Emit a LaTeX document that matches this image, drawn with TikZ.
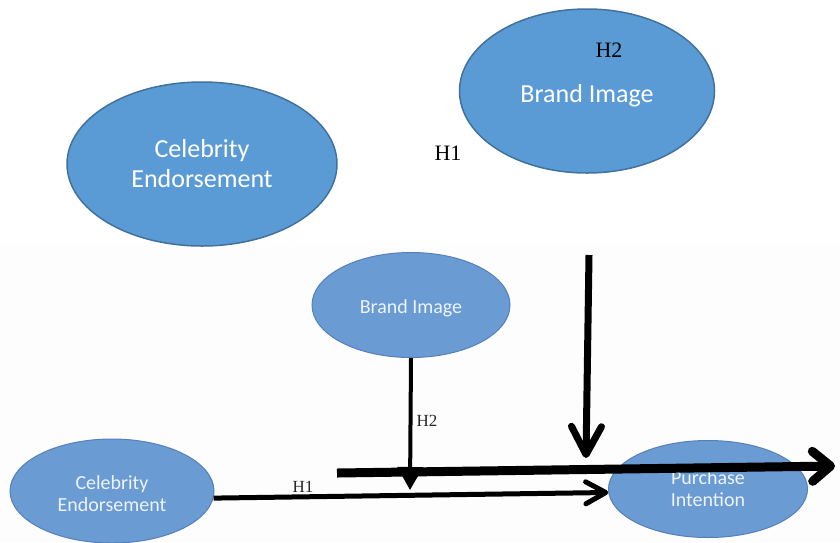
\documentclass[tikz,border=0pt]{standalone}
\usepackage{fontspec}
\setmainfont{Liberation Serif}
\newfontfamily\calfont{Carlito}
\usetikzlibrary{shapes.geometric,arrows.meta,calc}
\definecolor{topfill}{HTML}{5B9BD5}
\definecolor{topline}{HTML}{41719C}
\definecolor{botfill}{HTML}{6A9BD3}
\definecolor{botline}{HTML}{5580BA}
\definecolor{bottext}{HTML}{EEF3FA}
\definecolor{bgshot}{HTML}{FDFDFD}
\newcommand{\lowertxt}[2]{\raisebox{-#1}[\height][\depth]{#2}}
\begin{document}
\begin{tikzpicture}[x=1pt,y=-1pt,
  topell/.style={ellipse, draw=topline, line width=1.5pt, fill=topfill, inner sep=0pt,
    text=white, font=\calfont\fontsize{26}{30}\selectfont, align=center},
  botell/.style={ellipse, draw=botline, line width=1pt, fill=botfill, inner sep=0pt,
    text=bottext, font=\calfont\fontsize{20}{22}\selectfont, align=center},
  toplabel/.style={font=\fontsize{22}{24}\selectfont, text=black, inner sep=0pt},
  botlabel/.style={font=\fontsize{17}{18}\selectfont, text=black!85, inner sep=0pt},
  thinarrow/.style={line width=4pt, -{Triangle[length=23pt,width=25pt]}},
  hone/.style={line width=5pt, -{Straight Barb[length=20pt,width=22pt,round]}},
  thickh/.style={line width=9pt, -{Straight Barb[length=18pt,width=30pt,round]}},
  thickv/.style={line width=7pt, -{Straight Barb[length=28pt,width=30pt,round]}}
]
\useasboundingbox (0,0) rectangle (840,542);
\fill[bgshot] (0,245) rectangle (840,542);

% top part
\node[topell, minimum width=270pt, minimum height=164pt] (CEt) at (202,164) {Celebrity\\Endorsement};
\node[topell, minimum width=255pt, minimum height=164pt] (BIt) at (587,91) {\lowertxt{4.5pt}{Brand Image}};
\node[toplabel] (H2t) at (609,50) {H2};
\node[toplabel] (H1t) at (448,153) {H1};

% bottom part
\node[botell, minimum width=198pt, minimum height=105pt] (BIb) at (411,305) {\lowertxt{3pt}{Brand Image}};
\node[botell, minimum width=204pt, minimum height=104pt] (CEb) at (112,491)
  {\lowertxt{3pt}{Celebrity}\\\lowertxt{3pt}{Endorsement}};
\node[botell, minimum width=199pt, minimum height=97pt] (PI) at (708,489) {Purchase\\Intention};

\coordinate (tipv) at (410,490);
\draw[thinarrow] (BIb.south) -- (tipv);
\node[botlabel] (H2b) at (427,421) {H2};

\draw[hone] (CEb.-4) -- (PI.182);
\node[botlabel] (H1b) at (303,487) {H1};

\coordinate (hs) at (337,473);
\coordinate (he) at (835,466);
\draw[thickh] (hs) -- (he);

\coordinate (vs) at (589,255);
\coordinate (ve) at (586,458);
\draw[thickv] (vs) -- (ve);
\end{tikzpicture}
\end{document}
